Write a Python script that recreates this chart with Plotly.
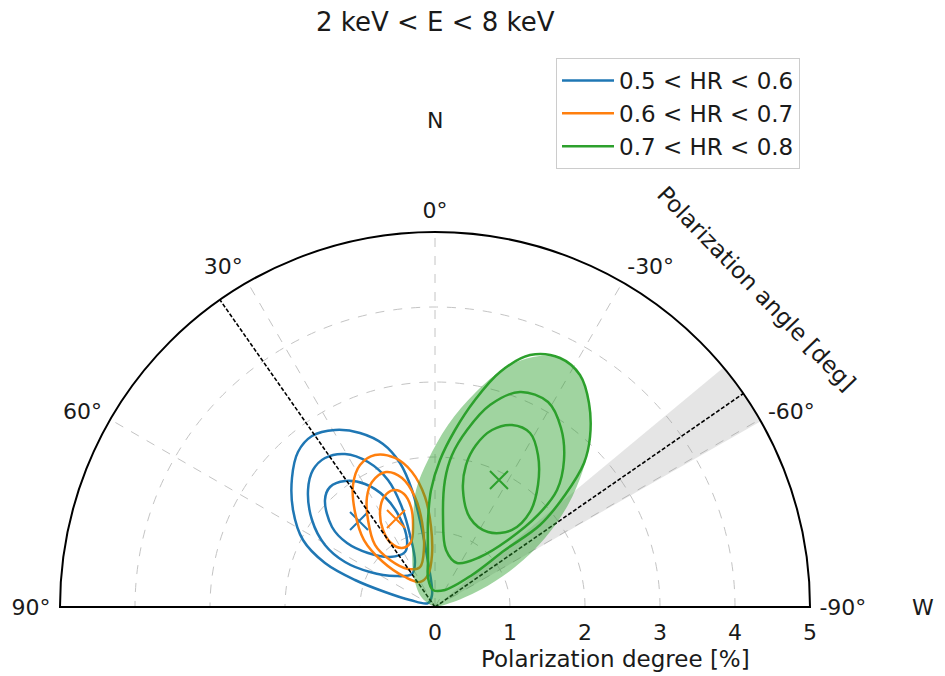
import numpy as np
import plotly.graph_objects as go

# ---------------- data ----------------
# Contour vertices in the plotting plane, in % of polarization degree:
# x: towards "W" (right), y: towards "N" (up)
blue_outer_x = [-1.907, -1.827, -1.64, -1.333, -1.0, -0.693, -0.467, -0.307, -0.187, -0.093, -0.04, -0.093, -0.333, -0.667, -1.067, -1.467, -1.76, -1.893]
blue_outer_y = [1.72, 2.067, 2.28, 2.36, 2.32, 2.173, 1.92, 1.56, 1.093, 0.6, 0.16, 0.053, 0.093, 0.2, 0.36, 0.587, 0.893, 1.293]
blue_mid_x = [-1.693, -1.627, -1.467, -1.2, -0.893, -0.627, -0.453, -0.333, -0.267, -0.307, -0.533, -0.867, -1.2, -1.467, -1.64]
blue_mid_y = [1.56, 1.827, 1.987, 2.04, 1.933, 1.693, 1.36, 0.96, 0.6, 0.44, 0.413, 0.467, 0.6, 0.827, 1.16]
blue_in_x = [-1.467, -1.4, -1.2, -0.933, -0.667, -0.467, -0.373, -0.4, -0.6, -0.893, -1.173, -1.373]
blue_in_y = [1.427, 1.6, 1.68, 1.64, 1.467, 1.187, 0.893, 0.733, 0.667, 0.72, 0.853, 1.067]
blue_best = (-1.013, 1.147)

orange_outer_x = [-1.093, -1.0, -0.8, -0.533, -0.307, -0.133, -0.053, -0.04, -0.093, -0.2, -0.4, -0.693, -0.947, -1.067]
orange_outer_y = [1.627, 1.893, 2.027, 1.987, 1.8, 1.467, 1.067, 0.693, 0.427, 0.333, 0.4, 0.6, 0.893, 1.267]
orange_mid_x = [-0.907, -0.84, -0.653, -0.44, -0.267, -0.173, -0.147, -0.2, -0.36, -0.6, -0.8, -0.893]
orange_mid_y = [1.467, 1.667, 1.8, 1.72, 1.467, 1.133, 0.787, 0.533, 0.507, 0.627, 0.827, 1.16]
orange_in_x = [-0.733, -0.68, -0.547, -0.413, -0.32, -0.293, -0.32, -0.44, -0.587, -0.693]
orange_in_y = [1.267, 1.467, 1.56, 1.507, 1.333, 1.093, 0.867, 0.787, 0.853, 1.027]
orange_best = (-0.52, 1.173)

green_fill_x = [-0.293, -0.253, -0.093, 0.173, 0.533, 0.933, 1.307, 1.667, 1.933, 2.067, 2.067, 1.973, 1.773, 1.467, 1.067, 0.6, 0.2, 0.0, -0.173, -0.28, -0.307]
green_fill_y = [1.16, 1.56, 1.96, 2.427, 2.853, 3.187, 3.333, 3.32, 3.093, 2.693, 2.227, 1.827, 1.36, 0.92, 0.533, 0.227, 0.053, 0.013, 0.12, 0.387, 0.76]
green_outer_x = [-0.093, -0.093, -0.053, 0.067, 0.267, 0.533, 0.867, 1.267, 1.667, 1.933, 2.053, 2.067, 1.987, 1.733, 1.4, 0.933, 0.493, 0.133, -0.027, -0.093]
green_outer_y = [0.627, 1.16, 1.56, 1.96, 2.36, 2.76, 3.133, 3.36, 3.32, 3.093, 2.72, 2.267, 1.92, 1.493, 1.093, 0.76, 0.427, 0.227, 0.227, 0.387]
green_mid_x = [0.107, 0.133, 0.227, 0.427, 0.733, 1.133, 1.507, 1.68, 1.72, 1.627, 1.373, 0.973, 0.6, 0.293, 0.147]
green_mid_y = [1.2, 1.693, 2.027, 2.36, 2.693, 2.867, 2.733, 2.387, 1.96, 1.56, 1.227, 0.893, 0.667, 0.587, 0.76]
green_in_x = [0.373, 0.413, 0.547, 0.76, 1.027, 1.267, 1.373, 1.373, 1.267, 1.027, 0.707, 0.467]
green_in_y = [1.56, 1.893, 2.16, 2.36, 2.427, 2.32, 2.027, 1.627, 1.267, 1.027, 1.0, 1.187]
green_best = (0.853, 1.693)

series_labels = ["0.5 &lt; HR &lt; 0.6", "0.6 &lt; HR &lt; 0.7", "0.7 &lt; HR &lt; 0.8"]
series_colors = ["#1f77b4", "#ff7f0e", "#2ca02c"]

ref_angle_left = 35.0      # deg, dashed reference direction
ref_angle_right = -55.3    # deg, dashed reference direction
ref_band_width = 10.0      # deg, grey uncertainty band around the right direction
pd_max = 5

angle_tickvals = [-90, -60, -30, 0, 30, 60, 90]
angle_ticktext = ["-90°", "-60°", "-30°", "0°", "30°", "60°", "90°"]
radial_tickvals = [0, 1, 2, 3, 4, 5]


def to_polar(xs, ys, close=True):
    xs = np.asarray(xs, float)
    ys = np.asarray(ys, float)
    if close:
        xs = np.append(xs, xs[0])
        ys = np.append(ys, ys[0])
    r = np.hypot(xs, ys)
    th = np.degrees(np.arctan2(-xs, ys))
    return r, th


FONT = "DejaVu Sans"
fig = go.Figure()

# grey band around the right reference direction
fig.add_trace(go.Barpolar(r=[pd_max], theta=[ref_angle_right], width=[ref_band_width],
                          marker=dict(color="rgba(150,150,150,0.25)", line=dict(width=0)),
                          showlegend=False, hoverinfo="skip"))

# left half of the base line (frame)
fig.add_trace(go.Scatterpolar(r=[0, pd_max], theta=[90, 90], mode="lines",
                              line=dict(color="black", width=2), showlegend=False, hoverinfo="skip"))


def contour(xs, ys, color, name=None, legend=False, group=None, width=2.5):
    r, th = to_polar(xs, ys)
    fig.add_trace(go.Scatterpolar(r=r, theta=th, mode="lines",
                                  line=dict(color=color, width=width, shape="spline", smoothing=1.0),
                                  name=name, showlegend=legend, legendgroup=group, hoverinfo="skip"))


def best(pt, color):
    r, th = to_polar([pt[0]], [pt[1]], close=False)
    fig.add_trace(go.Scatterpolar(r=r, theta=th, mode="markers",
                                  marker=dict(symbol="x-thin", size=18, line=dict(color=color, width=2)),
                                  showlegend=False, hoverinfo="skip"))


# blue
contour(blue_outer_x, blue_outer_y, series_colors[0], series_labels[0], True, "b")
contour(blue_mid_x, blue_mid_y, series_colors[0], group="b")
contour(blue_in_x, blue_in_y, series_colors[0], group="b")
best(blue_best, series_colors[0])
# orange
contour(orange_outer_x, orange_outer_y, series_colors[1], series_labels[1], True, "o")
contour(orange_mid_x, orange_mid_y, series_colors[1], group="o")
contour(orange_in_x, orange_in_y, series_colors[1], group="o")
best(orange_best, series_colors[1])

# dashed reference directions
for a in (ref_angle_left, ref_angle_right):
    fig.add_trace(go.Scatterpolar(r=[0, pd_max], theta=[a, a], mode="lines",
                                  line=dict(color="black", width=1.6, dash="4px,2px"),
                                  showlegend=False, hoverinfo="skip"))

# green filled region
rf, tf = to_polar(green_fill_x, green_fill_y)
fig.add_trace(go.Scatterpolar(r=rf, theta=tf, mode="lines", fill="toself",
                              fillcolor="rgba(44,160,44,0.45)",
                              line=dict(color="rgba(44,160,44,0.0)", width=0.5, shape="spline"),
                              showlegend=False, hoverinfo="skip"))
contour(green_outer_x, green_outer_y, series_colors[2], series_labels[2], True, "g")
contour(green_mid_x, green_mid_y, series_colors[2], group="g")
contour(green_in_x, green_in_y, series_colors[2], group="g")
best(green_best, series_colors[2])

# The page body adds an 8 px margin; lay the figure out in window pixels.
OFF = 8
W, H = 945 - OFF, 676 - OFF
cx, cy, R = 435, 607, 375


def px(x):
    return (x - OFF) / W


def py(y):
    return 1 - (y - OFF) / H


fig.update_layout(
    width=W, height=H,
    margin=dict(l=0, r=0, t=0, b=0),
    paper_bgcolor="white",
    font=dict(family=FONT, size=22, color="#1a1a1a"),
    showlegend=True,
    legend=dict(x=px(800), y=py(58), xanchor="right", yanchor="top",
                bgcolor="white", bordercolor="#cccccc", borderwidth=1,
                font=dict(size=23, family=FONT), tracegroupgap=0, itemwidth=52),
    polar=dict(
        domain=dict(x=[px(cx - R), px(cx + R)], y=[py(cy), py(cy - R)]),
        sector=[0, 180],
        bgcolor="white",
        angularaxis=dict(rotation=90, direction="counterclockwise",
                         tickmode="array", tickvals=angle_tickvals, ticktext=angle_ticktext,
                         showline=True, linecolor="black", linewidth=2,
                         showgrid=True, gridcolor="#c4c4c4", griddash="dash", gridwidth=1,
                         ticks="outside", ticklen=4, tickcolor="rgba(0,0,0,0)",
                         tickfont=dict(size=22, family=FONT)),
        radialaxis=dict(range=[0, pd_max], tickmode="array", tickvals=radial_tickvals,
                        angle=0, side="clockwise",
                        showline=True, linecolor="black", linewidth=2,
                        showgrid=True, gridcolor="#c4c4c4", griddash="dash", gridwidth=1,
                        ticks="outside", ticklen=6, tickcolor="rgba(0,0,0,0)",
                        tickfont=dict(size=22, family=FONT)),
    ),
    annotations=[
        dict(text="2 keV &lt; E &lt; 8 keV", x=px(cx), y=py(22), xref="paper", yref="paper",
             showarrow=False, font=dict(size=26, family=FONT), xanchor="center", yanchor="middle"),
        dict(text="N", x=px(cx), y=py(120), xref="paper", yref="paper",
             showarrow=False, font=dict(size=22, family=FONT), xanchor="center", yanchor="middle"),
        dict(text="W", x=px(923), y=py(607), xref="paper", yref="paper",
             showarrow=False, font=dict(size=22, family=FONT), xanchor="center", yanchor="middle"),
        dict(text="Polarization degree [%]", x=px(615), y=py(659), xref="paper", yref="paper",
             showarrow=False, font=dict(size=23, family=FONT), xanchor="center", yanchor="middle"),
        dict(text="Polarization angle [deg]", x=px(756), y=py(288), xref="paper", yref="paper",
             showarrow=False, textangle=46, font=dict(size=23, family=FONT),
             xanchor="center", yanchor="middle"),
    ],
)

fig.write_html("out.html")
